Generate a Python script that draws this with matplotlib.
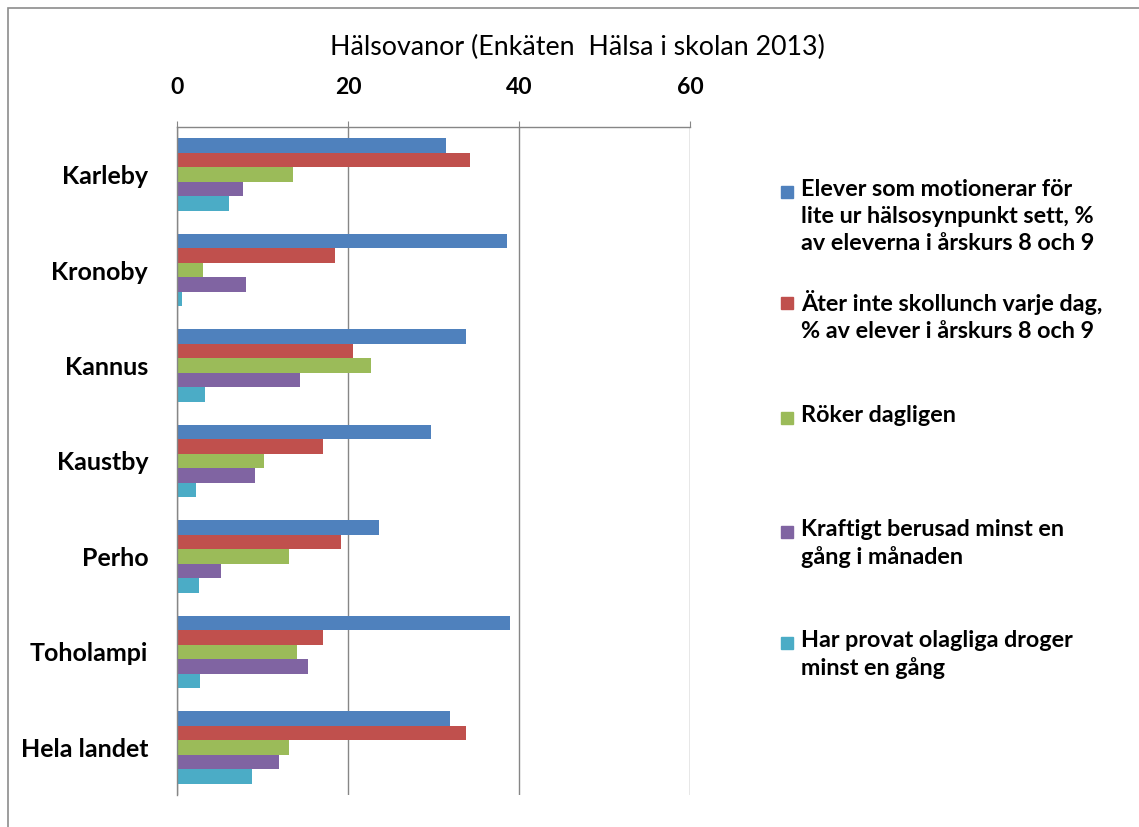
import numpy as np
import matplotlib.pyplot as plt
from matplotlib.patches import Rectangle

plt.rcParams['font.family'] = ['Lato', 'DejaVu Sans']

# Andel elever (%) per kommun
kommuner = ['Karleby', 'Kronoby', 'Kannus', 'Kaustby', 'Perho', 'Toholampi', 'Hela landet']
motion = [31.4, 38.6, 33.8, 29.7, 23.6, 38.9, 31.9]
skollunch = [34.2, 18.4, 20.6, 17.0, 19.2, 17.0, 33.8]
roker = [13.5, 3.0, 22.6, 10.1, 13.1, 14.0, 13.1]
berusad = [7.7, 8.0, 14.3, 9.1, 5.1, 15.3, 11.9]
droger = [6.0, 0.6, 3.2, 2.2, 2.5, 2.6, 8.7]

serier = [
    'Elever som motionerar för\nlite ur hälsosynpunkt sett, %\nav eleverna i årskurs 8 och 9',
    'Äter inte skollunch varje dag,\n% av elever i årskurs 8 och 9',
    'Röker dagligen',
    'Kraftigt berusad minst en\ngång i månaden',
    'Har provat olagliga droger\nminst en gång',
]
farger = ['#4F81BD', '#C0504D', '#9BBB59', '#8064A2', '#4BACC6']
xticks = [0, 20, 40, 60]

W, H = 1139, 827
fig = plt.figure(figsize=(W / 100, H / 100), dpi=100)
ax = fig.add_axes([177.3 / W, 1 - 795 / H, (690.3 - 177.3) / W, (795 - 127) / H])

# yttre ram runt diagrammet
fig.patches.append(Rectangle((8 / W, -0.05), 1.1, 1 - 8 / H + 0.05, transform=fig.transFigure,
                             fill=False, edgecolor='#8c8c8c', linewidth=1.2))

y = np.arange(len(kommuner))
h = 0.152
for i, (vals, col) in enumerate(zip([motion, skollunch, roker, berusad, droger], farger)):
    ax.barh(y + (i - 2) * h, vals, height=h, color=col, linewidth=0)

ax.set_xlim(0, 60)
ax.set_ylim(len(kommuner) - 0.5, -0.5)
ax.set_xticks(xticks)
ax.xaxis.set_ticks_position('top')
ax.xaxis.set_label_position('top')
ax.tick_params(axis='x', top=True, labeltop=True, bottom=False, labelbottom=False,
               direction='out', length=4, color='#868686', pad=17, labelsize=16.5)
for t in ax.get_xticklabels():
    t.set_fontweight('bold')
ax.set_yticks(y)
ax.set_yticklabels(kommuner, fontsize=18, fontweight='bold')
ax.tick_params(axis='y', length=0, pad=21)
ax.grid(axis='x', color='#868686', linewidth=1)
ax.set_axisbelow(True)
for s in ['right', 'bottom']:
    ax.spines[s].set_visible(False)
for s in ['top', 'left']:
    ax.spines[s].set_color('#868686')
    ax.spines[s].set_linewidth(1)

fig.text(577 / W, 1 - 47 / H, 'Hälsovanor (Enkäten  Hälsa i skolan 2013)', ha='center', va='center',
         fontsize=19.3)

# förklaring
rad_y = [192, 303, 418, 532, 643]
for namn, col, ry in zip(serier, farger, rad_y):
    fig.patches.append(Rectangle((781 / W, 1 - (ry + 6) / H), 12 / W, 12 / H,
                                 transform=fig.transFigure, color=col))
    fig.text(801 / W, 1 - (ry - 13) / H, namn, ha='left', va='top', fontsize=16.8,
             fontweight='bold', linespacing=1.36)

fig.savefig('out.png', dpi=100)
